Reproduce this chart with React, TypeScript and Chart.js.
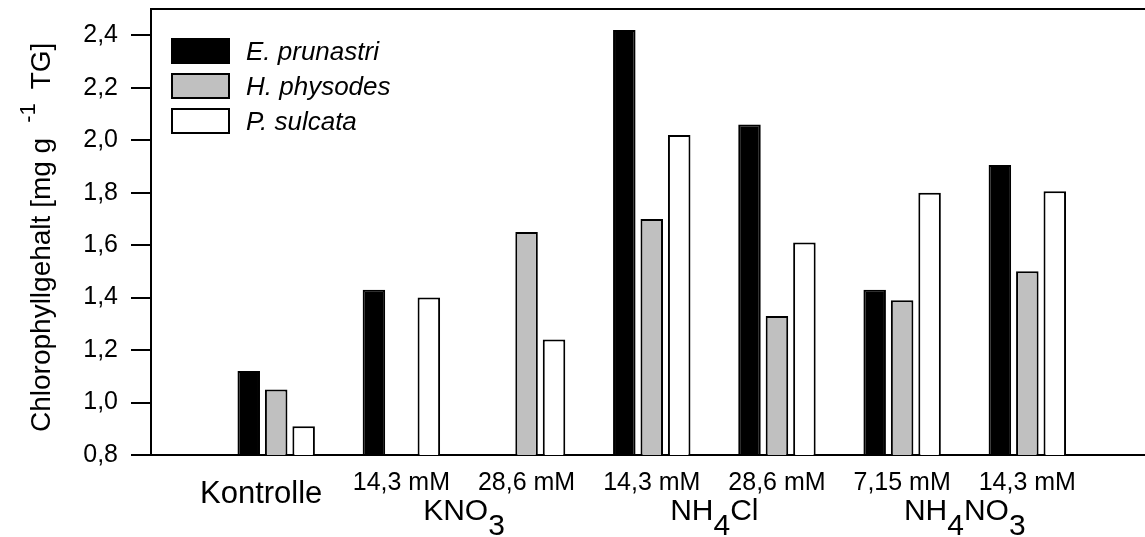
import React, { useEffect, useRef } from "react";
import { Chart, registerables } from "chart.js";

Chart.register(...registerables);

// Treatment columns (concentration labels under each bar group)
const categories = ["Kontrolle", "14,3 mM", "28,6 mM", "14,3 mM", "28,6 mM", "7,15 mM", "14,3 mM"];

// Chlorophyll content per species, mg g^-1 TG
const ePrunastri = [1.12, 1.43, null, 2.42, 2.06, 1.43, 1.905];
const hPhysodes = [1.05, null, 1.65, 1.7, 1.33, 1.39, 1.5];
const pSulcata = [0.91, 1.4, 1.24, 2.02, 1.61, 1.8, 1.805];

const seriesNames = ["E. prunastri", "H. physodes", "P. sulcata"];

// Salt names spanning two treatment columns each; [text, isSubscript]
const saltGroups: { from: number; to: number; parts: [string, boolean][] }[] = [
  { from: 1, to: 2, parts: [["KNO", false], ["3", true]] },
  { from: 3, to: 4, parts: [["NH", false], ["4", true], ["Cl", false]] },
  { from: 5, to: 6, parts: [["NH", false], ["4", true], ["NO", false], ["3", true]] },
];

const yTicks = [0.8, 1.0, 1.2, 1.4, 1.6, 1.8, 2.0, 2.2, 2.4];

const FONT = "'Liberation Sans', Arial, Helvetica, sans-serif";

const toPoints = (vals: (number | null)[]) => vals.map((v, i) => ({ x: i, y: v }));

const decorations = {
  id: "decorations",
  afterDraw(chart: any) {
    const { ctx, chartArea, scales } = chart;
    const xs = scales.x;
    ctx.save();
    ctx.fillStyle = "#000";
    ctx.strokeStyle = "#000";

    // top frame line
    ctx.lineWidth = 2;
    ctx.beginPath();
    ctx.moveTo(chartArea.left - 1, chartArea.top);
    ctx.lineTo(chartArea.right, chartArea.top);
    ctx.stroke();

    // treatment labels
    ctx.textAlign = "center";
    ctx.textBaseline = "alphabetic";
    categories.forEach((c, i) => {
      const cx = xs.getPixelForValue(i);
      if (i === 0) {
        ctx.font = `31px ${FONT}`;
        ctx.fillText(c, cx - 15, 503);
      } else {
        ctx.font = `25px ${FONT}`;
        ctx.fillText(c, cx, 490);
      }
    });

    // salt names with subscripts
    ctx.font = `30px ${FONT}`;
    ctx.textAlign = "left";
    saltGroups.forEach((g) => {
      const cx = (xs.getPixelForValue(g.from) + xs.getPixelForValue(g.to)) / 2;
      const total = g.parts.reduce((s, p) => s + ctx.measureText(p[0]).width, 0);
      let x = cx - total / 2;
      g.parts.forEach(([t, sub]) => {
        ctx.fillText(t, x, sub ? 535 : 520);
        x += ctx.measureText(t).width;
      });
    });

    // legend
    const boxL = 171;
    const boxW = 59;
    const boxH = 26;
    const fills = ["#000000", "#c0c0c0", "#ffffff"];
    ctx.font = `italic 26px ${FONT}`;
    seriesNames.forEach((name, i) => {
      const top = 38 + i * 35;
      ctx.fillStyle = fills[i];
      ctx.fillRect(boxL, top, boxW, boxH);
      ctx.lineWidth = 2;
      ctx.strokeStyle = "#000";
      ctx.strokeRect(boxL + 1, top + 1, boxW - 2, boxH - 2);
      ctx.fillStyle = "#000";
      ctx.fillText(name, 246, top + 22);
    });

    // y-axis title with superscript
    ctx.translate(50, 432);
    ctx.rotate(-Math.PI / 2);
    ctx.textAlign = "left";
    ctx.font = `28px ${FONT}`;
    const main = "Chlorophyllgehalt [mg g";
    ctx.fillText(main, 0, 0);
    let pos = ctx.measureText(main).width + 15;
    ctx.font = `22px ${FONT}`;
    ctx.fillText("-1", pos, -15);
    pos += ctx.measureText("-1").width + 14;
    ctx.font = `28px ${FONT}`;
    ctx.fillText("TG]", pos, 0);

    ctx.restore();
  },
};

export default function App() {
  const canvasRef = useRef<HTMLCanvasElement | null>(null);

  useEffect(() => {
    const canvas = canvasRef.current;
    if (!canvas) return;
    const barCommon = {
      borderColor: "#000",
      borderWidth: 2,
      borderSkipped: "start" as const,
      categoryPercentage: 0.7,
      barPercentage: 0.82,
    };
    const chart = new Chart(canvas, {
      type: "bar",
      data: {
        datasets: [
          { label: seriesNames[0], data: toPoints(ePrunastri), backgroundColor: "#000000", ...barCommon },
          { label: seriesNames[1], data: toPoints(hPhysodes), backgroundColor: "#c0c0c0", ...barCommon },
          { label: seriesNames[2], data: toPoints(pSulcata), backgroundColor: "#ffffff", ...barCommon },
        ],
      },
      options: {
        animation: false,
        responsive: false,
        layout: { padding: { top: 9, left: 0, right: 0, bottom: 0 } },
        plugins: {
          legend: { display: false },
          tooltip: { enabled: false },
        },
        scales: {
          x: {
            type: "linear",
            offset: false,
            min: -1,
            max: 6.94,
            grid: { display: false },
            ticks: { display: false },
            border: { display: true, color: "#000", width: 2 },
            afterFit: (s: any) => {
              s.height = 82;
              s.paddingLeft = 0;
              s.paddingRight = 0;
            },
          },
          y: {
            type: "linear",
            min: 0.8,
            max: 2.5,
            afterBuildTicks: (s: any) => {
              s.ticks = yTicks.map((v) => ({ value: v }));
            },
            ticks: {
              color: "#000",
              padding: 13,
              font: { family: FONT, size: 25 },
              callback: (v: any) => Number(v).toFixed(1).replace(".", ","),
            },
            grid: {
              drawOnChartArea: false,
              drawTicks: true,
              tickLength: 20,
              color: "#000",
              lineWidth: 2,
            },
            border: { display: true, color: "#000", width: 2 },
            afterFit: (s: any) => {
              s.width = 151;
              s.paddingTop = 0;
              s.paddingBottom = 0;
            },
          },
        },
      },
      plugins: [decorations],
    });
    return () => chart.destroy();
  }, []);

  return (
    <div style={{ position: "fixed", left: 0, top: 0, width: 1145, height: 537, background: "#fff" }}>
      <canvas ref={canvasRef} width={1145} height={537} />
    </div>
  );
}
